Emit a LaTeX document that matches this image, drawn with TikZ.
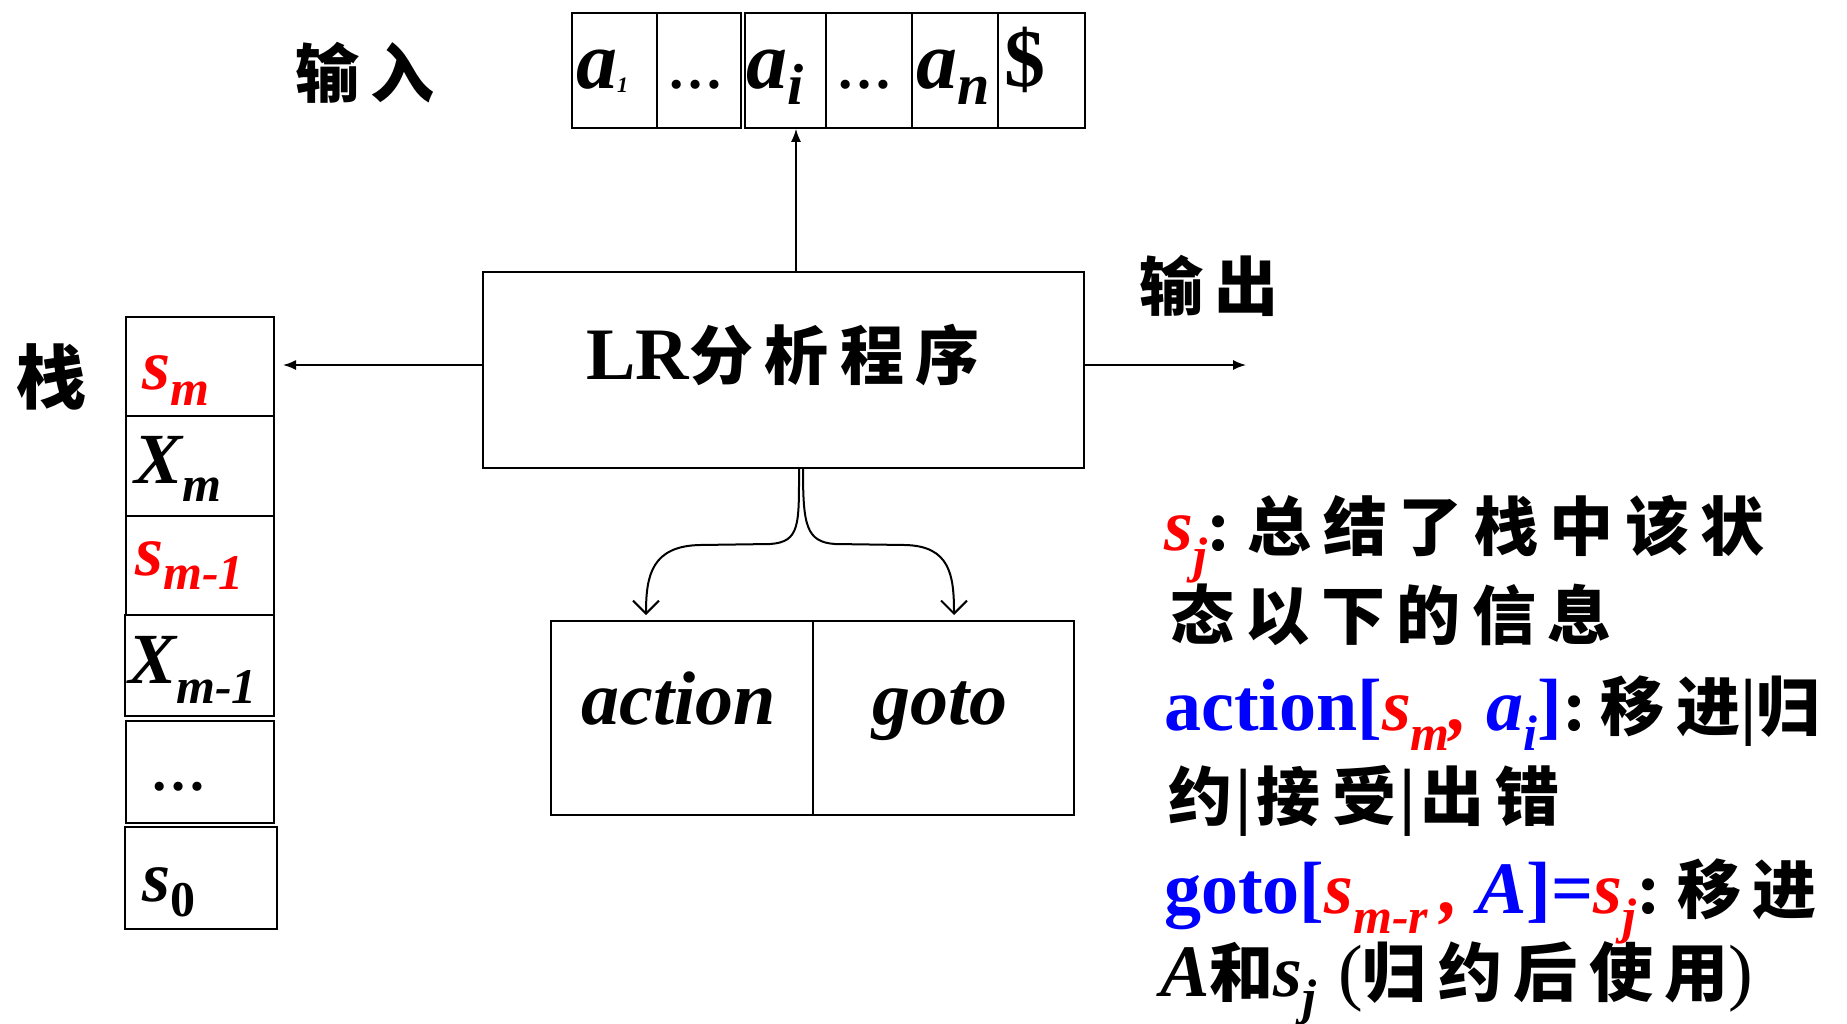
\documentclass[tikz,border=0pt]{standalone}
\usepackage{fontspec}
\setmainfont{Liberation Serif}
\newfontfamily\cjkfam{Noto Sans CJK SC}[LetterSpace=18]
\usetikzlibrary{arrows.meta}
\definecolor{rd}{RGB}{255,0,0}
\definecolor{bl}{RGB}{0,0,255}
\newcommand\fs[1]{\fontsize{#1}{#1}\selectfont}
\newcommand\cj[2][64]{{\cjkfam\bfseries\fs{#1}#2}}
\newcommand\subs[3]{\lower#1\hbox{\fs{#2}#3}}
\newcommand\vbar{\hspace{3pt}{\bfseries|}\hspace{5pt}}
\begin{document}
\begin{tikzpicture}[x=1pt,y=-1pt,
  box/.style={draw, line width=1.8pt, inner sep=0pt, anchor=north west},
  txt/.style={inner sep=0pt, anchor=base west},
  conn/.style={line width=1.6pt, -{Latex[length=13pt,width=10pt]}},
  curv/.style={line width=2pt, -{Straight Barb[length=13pt,width=26pt,line width=2pt]}}]
\useasboundingbox (0,0) rectangle (1847,1023);
\fill[white] (0,0) rectangle (1847,1023);
% input tape
\node[box, minimum width=85pt, minimum height=115pt] (in1) at (571,12) {};
\node[box, minimum width=84pt, minimum height=115pt] (in2) at (656,12) {};
\node[box, minimum width=81pt, minimum height=115pt] (in3) at (744,12) {};
\node[box, minimum width=86pt, minimum height=115pt] (in4) at (825,12) {};
\node[box, minimum width=86pt, minimum height=115pt] (in5) at (911,12) {};
\node[box, minimum width=87pt, minimum height=115pt] (in6) at (997,12) {};
\node[txt] (ta1) at (576,88) {\bfseries\itshape\fs{82}a\subs{4pt}{22}{1}};
\node[txt] (td1) at (667,88) {\bfseries\fs{56}\char"2026};
\node[txt] (tai) at (746,88) {\bfseries\itshape\fs{82}a\subs{16pt}{58}{i}};
\node[txt] (td2) at (836,88) {\bfseries\fs{56}\char"2026};
\node[txt] (tan) at (916,88) {\bfseries\itshape\fs{82}a\subs{16pt}{58}{n}};
\node[txt] (tdl) at (1004,86) {\bfseries\fs{82}\$};
\node[inner sep=0pt, anchor=west] (lin) at (295,73) {\cj{输入}};
\node[inner sep=0pt, anchor=west] (lout) at (1139,286) {\cj{输出}};
\node[inner sep=0pt, anchor=west] (lstk) at (16,377) {\cj[70]{栈}};
% LR box
\node[draw, line width=1.8pt, minimum width=601pt, minimum height=196pt, inner sep=0pt] (lr) at (783.5,370) {};
\node[inner sep=0pt, anchor=base] (lrt) at (783,379) {{\bfseries\fs{74}LR}\cj{分析程序}};
% stack
\node[box, minimum width=148pt, minimum height=99pt] (s1) at (125,316) {};
\node[box, minimum width=148pt, minimum height=100pt] (s2) at (125,415) {};
\node[box, minimum width=148pt, minimum height=99pt] (s3) at (125,515) {};
\node[box, minimum width=149pt, minimum height=101pt] (s4) at (124,614) {};
\node[box, minimum width=148pt, minimum height=102pt] (s5) at (125,720) {};
\node[box, minimum width=152pt, minimum height=102pt] (s6) at (124,826) {};
\node[txt] (ts1) at (142,389) {\color{rd}\bfseries\itshape\fs{72}s\subs{16pt}{50}{m}};
\node[txt] (ts2) at (134,483) {\bfseries\itshape\fs{72}X\subs{18pt}{50}{m}};
\node[txt] (ts3) at (135,575) {\color{rd}\bfseries\itshape\fs{72}s\subs{14pt}{50}{m-1}};
\node[txt] (ts4) at (128,683) {\bfseries\itshape\fs{72}X\subs{20pt}{50}{m-1}};
\node[txt] (ts5) at (150,790) {\bfseries\fs{56}\char"2026};
\node[txt] (ts6) at (142,901) {\bfseries\itshape\fs{72}s\subs{15pt}{50}{\upshape 0}};
% action / goto
\node[box, minimum width=262pt, minimum height=194pt] (ag1) at (550,620) {};
\node[box, minimum width=261pt, minimum height=194pt] (ag2) at (812,620) {};
\node[inner sep=0pt, anchor=base] (tact) at (679,724) {\bfseries\itshape\fs{76}action};
\node[inner sep=0pt, anchor=base] (tgot) at (940,724) {\bfseries\itshape\fs{76}goto};
% connectors
\coordinate (ux) at (796,0);
\coordinate (ly) at (0,365);
\coordinate (lend) at (283,365);
\coordinate (rend) at (1246,365);
\draw[conn] (lr.north -| ux) -- (in3.south -| ux);
\draw[conn] (lr.west |- ly) -- (lend);
\draw[conn] (lr.east |- ly) -- (rend);
\coordinate (la) at (646,0);
\coordinate (ra) at (954,0);
\draw[curv] ([xshift=15.5pt]lr.south) .. controls (799,525) and (800,542) .. (770,544)
  -- (700,545) .. controls (652,546) and (646,575) .. ([yshift=5pt]ag1.north -| la);
\draw[curv] ([xshift=19.5pt]lr.south) .. controls (803,525) and (806,542) .. (835,544)
  -- (905,545) .. controls (950,546) and (954,575) .. ([yshift=5pt]ag2.north -| ra);
% explanation text
\node[txt] (x1) at (1164,550) {\fs{74}{\color{rd}\bfseries\itshape s\subs{22pt}{50}{j}}{\bfseries:}\hspace{16pt}\cj{总结了栈中该状}};
\node[txt] (x2) at (1170,639) {\cj{态以下的信息}};
\node[txt] (x3) at (1164,730) {\fs{74}{\color{bl}\bfseries action[}{\color{rd}\bfseries\itshape s\subs{20pt}{50}{m}, }{\color{bl}\bfseries\itshape a\subs{20pt}{50}{i}\upshape]}{\bfseries:}\hspace{14pt}\cj{移进}{\bfseries|}\cj{归}};
\node[txt] (x4) at (1168,820) {\fs{74}\cj{约}\vbar\cj{接受}\vbar\cj{出错}};
\node[txt] (x5) at (1164,913) {\fs{74}{\color{bl}\bfseries goto[}{\color{rd}\bfseries\itshape s\subs{20pt}{50}{m-r}\,,}{\color{bl}\bfseries\itshape\ A\upshape]=}{\color{rd}\bfseries\itshape s\subs{20pt}{50}{j}}{\bfseries:}\hspace{16pt}\cj{移进}};
\node[txt] (x6) at (1160,996) {\fs{74}{\bfseries\itshape A}\cj{和}{\bfseries\itshape s\subs{18pt}{50}{j}}\hspace{22pt}(\cj{归约后使用})};
\end{tikzpicture}
\end{document}
